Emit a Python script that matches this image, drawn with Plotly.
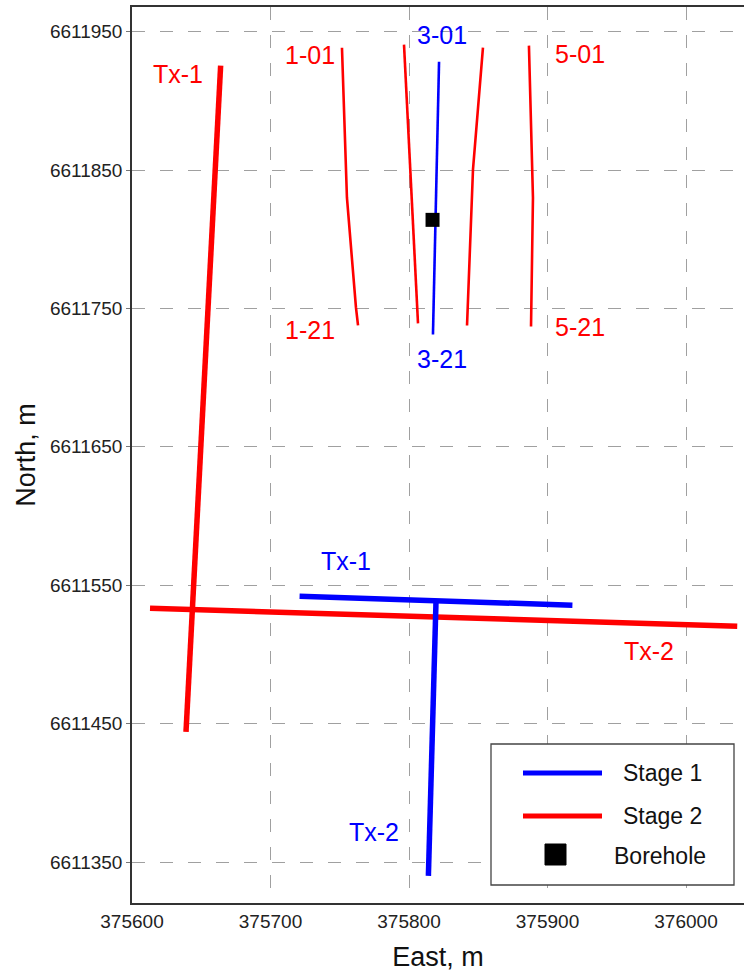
import plotly.graph_objects as go

# Transmitter cables (east, north), metres
stage1_tx1_e = [375721, 375819.5, 375918]
stage1_tx1_n = [6611542, 6611538.4, 6611535.6]
stage1_tx2_e = [375819.5, 375814]
stage1_tx2_n = [6611538.4, 6611340]

stage2_tx1_e = [375639, 375664]
stage2_tx1_n = [6611444, 6611925.5]
stage2_tx2_e = [375613, 376037]
stage2_tx2_n = [6611533.4, 6611520.4]

# Receiver profiles
profile1_e = [375751.6, 375754.5, 375755.2, 375761.7, 375763.2]
profile1_n = [6611938.4, 6611850.4, 6611830.0, 6611750.7, 6611737.7]
profile2_e = [375796.4, 375800.7, 375806.5]
profile2_n = [6611940.6, 6611850.4, 6611739.2]
profile3_e = [375821.7, 375819.5, 375817.3]
profile3_n = [6611928.3, 6611830.1, 6611731.2]
profile4_e = [375853.4, 375846.2, 375841.9]
profile4_n = [6611938.4, 6611850.4, 6611737.7]
profile5_e = [375886.6, 375888.8, 375889.5, 375888.1]
profile5_n = [6611939.9, 6611850.4, 6611830.0, 6611737.0]

borehole_e = [375817]
borehole_n = [6611814]

x_ticks = [375600, 375700, 375800, 375900, 376000]
y_ticks = [6611350, 6611450, 6611550, 6611650, 6611750, 6611850, 6611950]

RED = "#ff0000"
BLUE = "#0000ff"

# Text labels: (text, east, north, colour)
labels = [
    ("1-01", 375728.5, 6611933.4, RED),
    ("3-01", 375823.8, 6611947.8, BLUE),
    ("5-01", 375923.5, 6611934.1, RED),
    ("Tx-1", 375633.2, 6611919.7, RED),
    ("1-21", 375728.5, 6611734.1, RED),
    ("3-21", 375823.8, 6611713.2, BLUE),
    ("5-21", 375923.5, 6611736.3, RED),
    ("Tx-1", 375754.5, 6611567.3, BLUE),
    ("Tx-2", 375973.3, 6611502.3, RED),
    ("Tx-2", 375774.7, 6611371.7, BLUE),
]

FONT = "Liberation Sans, Arial, sans-serif"

fig = go.Figure()


def add_line(e, n, color, width):
    fig.add_trace(go.Scatter(
        x=e, y=n, mode="lines", showlegend=False, hoverinfo="skip",
        line=dict(color=color, width=width),
    ))


for e, n in [(profile1_e, profile1_n), (profile2_e, profile2_n),
             (profile4_e, profile4_n), (profile5_e, profile5_n)]:
    add_line(e, n, RED, 2.6)
add_line(profile3_e, profile3_n, BLUE, 2.6)

add_line(stage2_tx1_e, stage2_tx1_n, RED, 5.5)
add_line(stage2_tx2_e, stage2_tx2_n, RED, 5.5)
add_line(stage1_tx1_e, stage1_tx1_n, BLUE, 5.5)
add_line(stage1_tx2_e, stage1_tx2_n, BLUE, 5.5)

fig.add_trace(go.Scatter(
    x=borehole_e, y=borehole_n, mode="markers", showlegend=False,
    marker=dict(symbol="square", size=14, color="black"),
))

for text, e, n, c in labels:
    fig.add_annotation(x=e, y=n, text=text, showarrow=False,
                       font=dict(family=FONT, size=25, color=c),
                       xanchor="center", yanchor="middle")

# Legend box drawn in paper coordinates
W, H = 744, 972
L, R, T, B = 132, 0, 7, 69
pw, ph = W - L - R, H - T - B


def px(xp):
    return (xp - L) / pw


def py(yp):
    return (H - B - yp) / ph


fig.add_shape(type="rect", xref="paper", yref="paper",
              x0=px(491), x1=px(734), y0=py(885), y1=py(744),
              line=dict(color="#444", width=1.3), fillcolor="white", layer="above")
legend_items = [("Stage 1", BLUE, 773), ("Stage 2", RED, 816)]
for name, c, yy in legend_items:
    fig.add_shape(type="line", xref="paper", yref="paper",
                  x0=px(523), x1=px(602), y0=py(yy), y1=py(yy),
                  line=dict(color=c, width=5), layer="above")
    fig.add_annotation(xref="paper", yref="paper", x=px(621), y=py(yy),
                       text=name, showarrow=False, xanchor="left", yanchor="middle",
                       font=dict(family=FONT, size=23, color="#111"))
fig.add_shape(type="rect", xref="paper", yref="paper",
              x0=px(545), x1=px(566), y0=py(865), y1=py(844),
              line=dict(color="black", width=1), fillcolor="black", layer="above")
fig.add_annotation(xref="paper", yref="paper", x=px(612), y=py(856),
                   text="Borehole", showarrow=False, xanchor="left", yanchor="middle",
                   font=dict(family=FONT, size=23, color="#111"))

x_min = 375600
x_max = x_min + pw / 1.385
y_min = 6611320.4
y_max = y_min + ph / 1.384

grid = dict(showgrid=True, gridcolor="#a0a0a0", gridwidth=1.3, griddash="13px,15px")

fig.update_layout(
    width=W, height=H,
    margin=dict(l=L, r=R, t=T, b=B),
    paper_bgcolor="white", plot_bgcolor="white",
    font=dict(family=FONT, size=19, color="#222"),
    showlegend=False,
    xaxis=dict(
        range=[x_min, x_max], tickvals=x_ticks, ticktext=[str(v) for v in x_ticks],
        showline=True, linecolor="#333", linewidth=1.5, mirror=True,
        ticks="", zeroline=False, tickfont=dict(size=19),
        title=dict(text="East, m", font=dict(size=27, color="#111"), standoff=18),
        **grid,
    ),
    yaxis=dict(
        range=[y_min, y_max], tickvals=y_ticks, ticktext=[str(v) for v in y_ticks],
        showline=True, linecolor="#333", linewidth=1.5, mirror=False,
        ticks="outside", ticklen=4, tickcolor="#777", tickwidth=1,
        zeroline=False, tickfont=dict(size=19),
        title=dict(text="North, m", font=dict(size=27, color="#111"), standoff=6),
        **grid,
    ),
)

fig.write_html("out.html")
